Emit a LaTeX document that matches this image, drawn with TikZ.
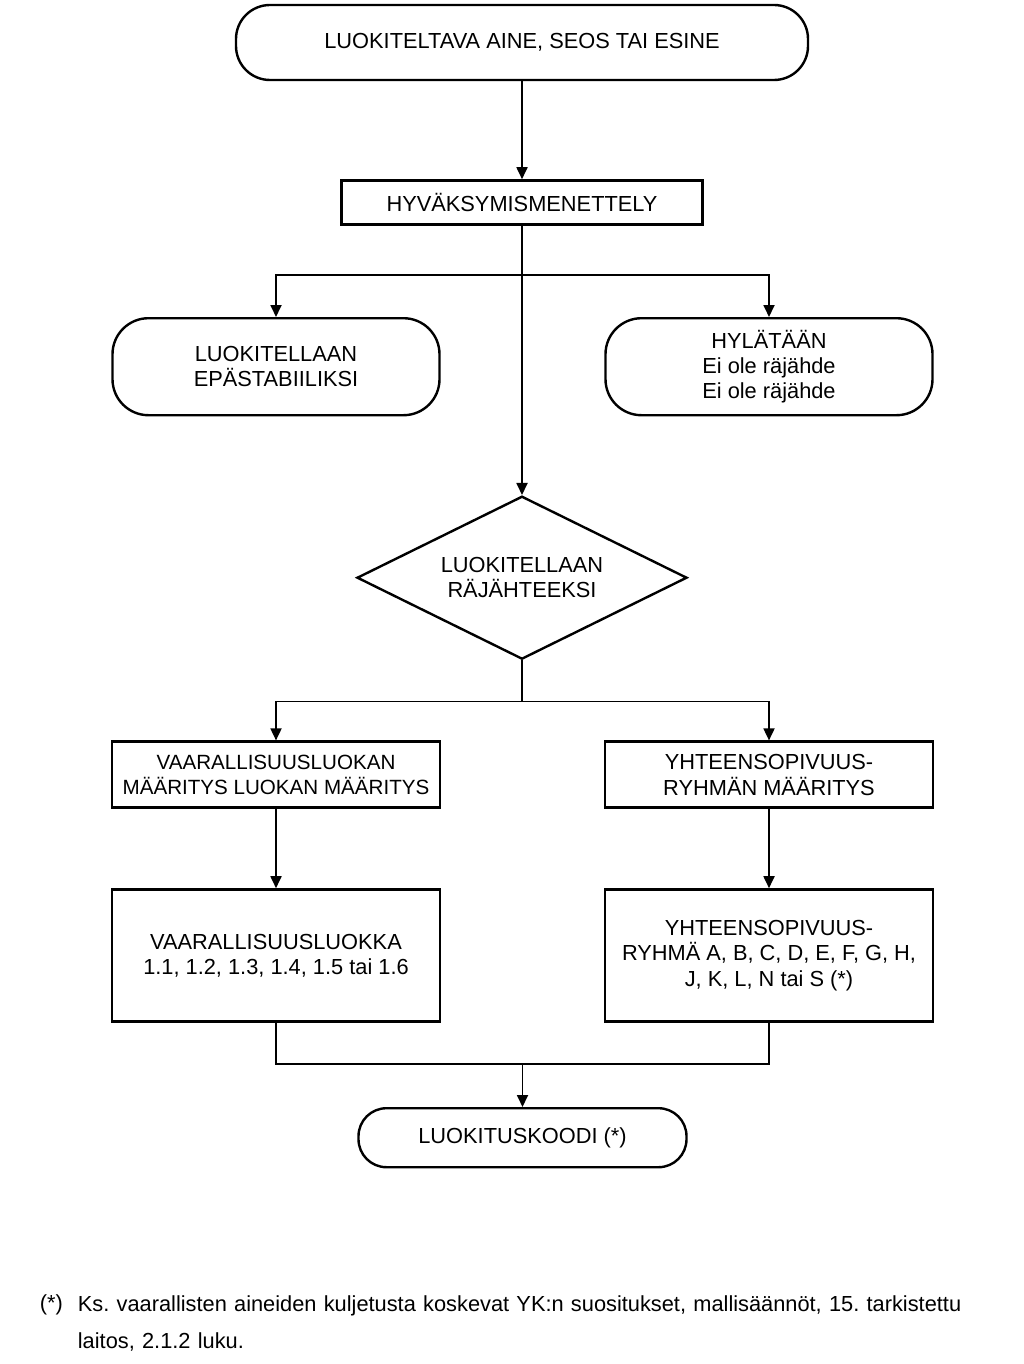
\documentclass[tikz,border=0pt]{standalone}
\usepackage{fontspec}
\setmainfont{Liberation Sans}
\usetikzlibrary{positioning,arrows.meta,shapes.geometric}
\usetikzlibrary{calc}
\tikzset{
    >={Triangle[length=6pt,width=5.5pt]},
    terminal/.style={
        rectangle,
        rounded corners=17pt,
        draw,
        line width=1.2pt,
        align=center,
        minimum width=286pt,
        minimum height=37.5pt
    },
    endbox/.style={
        rectangle,
        rounded corners=18pt,
        draw,
        line width=1.2pt,
        align=center,
        minimum width=163.5pt,
        minimum height=48.5pt
    },
    process/.style={
        rectangle,
        draw,
        line width=1.4pt,
        align=center,
        inner xsep=1pt,
        minimum width=164pt,
        minimum height=33pt
    },
    decision/.style={
        diamond,
        aspect=2.02,
        draw,
        line width=1.2pt,
        align=center,
        inner sep=0pt,
        minimum width=165pt,
        minimum height=81.5pt
    }
}

\begin{document}
\frenchspacing
\begin{tikzpicture}[
    font=\fontsize{10.9pt}{12.7pt}\selectfont,
    line width=0.9pt,
    ->
]
\useasboundingbox (0,0) rectangle (511.5pt,-682pt);

% Start
\node[terminal] (item) at (261pt,-21.25pt)
{LUOKITELTAVA AINE, SEOS TAI ESINE};

\node[process, minimum width=180.5pt, minimum height=22pt, below=49pt of item] (approval)
{HYVÄKSYMISMENETTELY};

% Outcomes of the approval
\node[endbox, below=45.5pt of approval, xshift=-123pt] (unstable)
{LUOKITELLAAN\\EPÄSTABIILIKSI};

\node[endbox, below=45.5pt of approval, xshift=123.5pt] (rejected)
{HYLÄTÄÄN\\Ei ole räjähde\\Ei ole räjähde};

\node[decision, below=134.5pt of approval] (explosive)
{LUOKITELLAAN\\RÄJÄHTEEKSI};

% Division and group
\node[process, below=40pt of explosive, xshift=-123pt,
    font=\fontsize{10.3pt}{12.7pt}\selectfont] (divdef)
{VAARALLISUUSLUOKAN\\MÄÄRITYS LUOKAN MÄÄRITYS};

\node[process, below=40pt of explosive, xshift=123.5pt] (grpdef)
{YHTEENSOPIVUUS-\\RYHMÄN MÄÄRITYS};

\node[process, minimum height=66pt, below=39.5pt of divdef] (division)
{VAARALLISUUSLUOKKA\\1.1, 1.2, 1.3, 1.4, 1.5 tai 1.6};

\node[process, minimum height=66pt, below=39.5pt of grpdef] (group)
{YHTEENSOPIVUUS-\\RYHMÄ A, B, C, D, E, F, G, H,\\J, K, L, N tai S (*)};

% Result
\node[terminal, rounded corners=14pt, minimum width=164pt, minimum height=29.5pt,
    below=42pt of $(division.south)!0.5!(group.south)$] (code)
{LUOKITUSKOODI (*)};

% Footnote
\node[anchor=west, inner sep=0pt, font=\fontsize{10.9pt}{18.5pt}\selectfont] (star) at (19.5pt,-652.5pt) {(*)};
\node[anchor=west, inner sep=0pt, align=left, text width=470pt,
    font=\fontsize{10.9pt}{18.5pt}\selectfont] (note) at (38.5pt,-661.5pt)
{Ks. vaarallisten aineiden kuljetusta koskevat YK:n suositukset, mallisäännöt, 15. tarkistettu\\laitos, 2.1.2 luku.};

% Branch points
\coordinate (split1) at ($(approval.south)+(0,-24.5pt)$);
\coordinate (split2) at ($(explosive.south)+(0,-20.5pt)$);
\coordinate (join) at ($(division.south)+(0,-20.5pt)$);

\draw (item) -- (approval);
\draw (approval) -- (explosive);
\draw (split1) -| (unstable.north);
\draw (split1) -| (rejected.north);

\draw[-] (explosive) -- (split2);
\draw (split2) -| (divdef.north);
\draw (split2) -| (grpdef.north);

\draw (divdef) -- (division);
\draw (grpdef) -- (group);

\draw[-] (division.south) |- (join) -| (group.south);
\draw (join -| code.north) -- (code);

\end{tikzpicture}
\end{document}
